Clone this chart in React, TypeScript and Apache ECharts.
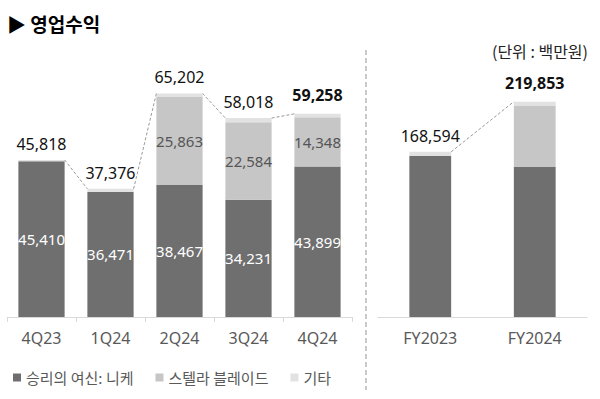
import React, { useEffect, useRef } from "react";
import * as echarts from "echarts";

const quarters = ["4Q23", "1Q24", "2Q24", "3Q24", "4Q24"];
const qNikke = [45410, 36471, 38467, 34231, 43899];
const qStellar = [0, 0, 25863, 22584, 14348];
const qOther = [408, 905, 872, 1203, 1011];
const qTotal = [45818, 37376, 65202, 58018, 59258];

const years = ["FY2023", "FY2024"];
const yNikke = [164600, 153068];
const yStellar = [0, 62795];
const yOther = [3994, 3990];
const yTotal = [168594, 219853];

const seriesNames = ["승리의 여신: 니케", "스텔라 블레이드", "기타"];
const colors = ["#6f6f6f", "#c6c6c6", "#e2e2e2"];

const FONT = "'Noto Sans CJK KR', 'Noto Sans', sans-serif";
const NUM_FONT = "'Noto Sans', 'Noto Sans CJK KR', sans-serif";
const Q_RATIO = 0.67;
const Y_RATIO = 0.4;

const fmt = (v: any) => (v ? Number(v).toLocaleString("en-US") : "");

function connectorData(totals: number[]) {
  const out: number[][] = [];
  for (let i = 0; i < totals.length - 1; i++) out.push([i, totals[i], totals[i + 1]]);
  return out;
}

function makeRender(ratio: number) {
  return (params: any, api: any) => {
    const i = api.value(0);
    const p1 = api.coord([i, api.value(1)]);
    const p2 = api.coord([i + 1, api.value(2)]);
    const half = (api.size([1, 0])[0] * ratio) / 2;
    return {
      type: "line",
      shape: { x1: p1[0] + half, y1: p1[1], x2: p2[0] - half, y2: p2[1] },
      style: { stroke: "#9a9a9a", lineDash: [3, 2], lineWidth: 1 },
    };
  };
}

export default function App() {
  const ref = useRef<HTMLDivElement>(null);
  useEffect(() => {
    if (!ref.current) return;
    const chart = echarts.init(ref.current, null, { renderer: "svg" });
    const isLast = (arr: number[], idx: number) => idx === arr.length - 1;

    const totalLabel = (totals: number[]) => ({
      show: true,
      position: "top",
      distance: 8,
      fontFamily: NUM_FONT,
      fontSize: 16,
      color: "#111",
      formatter: (p: any) => totals[p.dataIndex].toLocaleString("en-US"),
    });

    const mkOther = (vals: number[]) =>
      vals.map((v, i) => ({
        value: v,
        label: { fontWeight: isLast(vals, i) ? "bold" : "normal", distance: isLast(vals, i) ? 11 : 8 },
      }));

    const xAxisCommon = {
      type: "category",
      axisLine: { lineStyle: { color: "#d9d9d9" } },
      axisLabel: { color: "#595959", fontSize: 16, fontFamily: NUM_FONT, margin: 13 },
    };

    const option: any = {
      animation: false,
      title: [
        {
          text: "▶ 영업수익",
          left: 2,
          top: 9,
          textStyle: { fontFamily: FONT, fontSize: 19, fontWeight: "bold", color: "#000" },
        },
        {
          text: "(단위 : 백만원)",
          right: 7,
          top: 38,
          textStyle: { fontFamily: FONT, fontSize: 16, fontWeight: "normal", color: "#222" },
        },
      ],
      legend: {
        data: seriesNames,
        left: 8,
        top: 365,
        icon: "rect",
        itemWidth: 8,
        itemHeight: 8,
        itemGap: 22,
        textStyle: { color: "#595959", fontSize: 15, fontFamily: FONT },
      },
      grid: [
        { left: 7, width: 345, top: 77, bottom: 82 },
        { left: 378, right: 13, top: 77, bottom: 82 },
      ],
      xAxis: [
        { ...xAxisCommon, gridIndex: 0, data: quarters, axisTick: { show: true, length: 5, lineStyle: { color: "#d9d9d9" } } },
        { ...xAxisCommon, gridIndex: 1, data: years, axisTick: { show: false } },
      ],
      yAxis: [
        { type: "value", gridIndex: 0, min: 0, max: 70000, show: false, splitLine: { show: false } },
        { type: "value", gridIndex: 1, min: 0, max: 245000, show: false, splitLine: { show: false } },
      ],
      graphic: [
        {
          type: "line",
          shape: { x1: 366, y1: 50, x2: 366, y2: 390 },
          style: { stroke: "#a6a6a6", lineDash: [5, 3], lineWidth: 1.2 },
        },
      ],
      series: [
        {
          name: seriesNames[0],
          type: "bar",
          stack: "q",
          xAxisIndex: 0,
          yAxisIndex: 0,
          barWidth: Q_RATIO * 100 + "%",
          itemStyle: { color: colors[0] },
          label: { show: true, position: "inside", color: "#fff", fontSize: 15, fontFamily: NUM_FONT, formatter: (p: any) => fmt(p.value) },
          data: qNikke,
        },
        {
          name: seriesNames[1],
          type: "bar",
          stack: "q",
          xAxisIndex: 0,
          yAxisIndex: 0,
          barWidth: Q_RATIO * 100 + "%",
          itemStyle: { color: colors[1] },
          label: { show: true, position: "inside", color: "#555", fontSize: 15, fontFamily: NUM_FONT, formatter: (p: any) => fmt(p.value) },
          data: qStellar,
        },
        {
          name: seriesNames[2],
          type: "bar",
          stack: "q",
          xAxisIndex: 0,
          yAxisIndex: 0,
          barWidth: Q_RATIO * 100 + "%",
          itemStyle: { color: colors[2] },
          label: totalLabel(qTotal),
          data: mkOther(qOther),
        },
        {
          name: seriesNames[0],
          type: "bar",
          stack: "y",
          xAxisIndex: 1,
          yAxisIndex: 1,
          barWidth: Y_RATIO * 100 + "%",
          itemStyle: { color: colors[0] },
          data: yNikke,
        },
        {
          name: seriesNames[1],
          type: "bar",
          stack: "y",
          xAxisIndex: 1,
          yAxisIndex: 1,
          barWidth: Y_RATIO * 100 + "%",
          itemStyle: { color: colors[1] },
          data: yStellar,
        },
        {
          name: seriesNames[2],
          type: "bar",
          stack: "y",
          xAxisIndex: 1,
          yAxisIndex: 1,
          barWidth: Y_RATIO * 100 + "%",
          itemStyle: { color: colors[2] },
          label: totalLabel(yTotal),
          data: mkOther(yOther),
        },
        {
          type: "custom",
          xAxisIndex: 0,
          yAxisIndex: 0,
          renderItem: makeRender(Q_RATIO),
          encode: { x: 0, y: 1 },
          data: connectorData(qTotal),
          z: 5,
          silent: true,
        },
        {
          type: "custom",
          xAxisIndex: 1,
          yAxisIndex: 1,
          renderItem: makeRender(Y_RATIO),
          encode: { x: 0, y: 1 },
          data: connectorData(yTotal),
          z: 5,
          silent: true,
        },
      ],
    };
    chart.setOption(option);
    return () => chart.dispose();
  }, []);

  return <div ref={ref} style={{ width: 600, height: 399, position: "absolute", left: 0, top: 0 }} />;
}
